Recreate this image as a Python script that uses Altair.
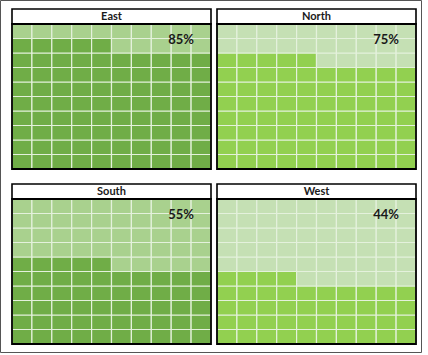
import altair as alt
import pandas as pd

# ---- data ----
regions = ["East", "North", "South", "West"]
percents = [85, 75, 55, 44]

# ---- layout constants (cell units) ----
GX = 6 / 19.9          # horizontal gap between panels
TITLE = 15 / 14.5      # title strip height
GY = 15 / 14.5         # vertical gap between panels
XD = 20 + GX
YD = 2 * (TITLE + 10) + GY

# ---- waffle cells (filled from bottom-left, row by row) ----
cells = []
for i, (r, p) in enumerate(zip(regions, percents)):
    for k in range(100):
        cells.append(dict(region=r, idx=i, row=9 - k // 10, col=k % 10,
                          key=r + ("-on" if k < p else "-off")))
cells_df = pd.DataFrame(cells)
panels_df = pd.DataFrame({"region": regions, "idx": range(4), "pct": percents})

color_domain = ["East-on", "East-off", "North-on", "North-off",
                "South-on", "South-off", "West-on", "West-off"]
color_range = ["#70AD47", "#A9D18E", "#92D050", "#C5E0B4",
               "#70AD47", "#A9D18E", "#92D050", "#C5E0B4"]

xs = alt.Scale(domain=[0, XD], nice=False, zero=False)
ys = alt.Scale(domain=[0, YD], nice=False, zero=False, reverse=True)

panel_calc = dict(
    pc="datum.idx % 2",
    pr="floor(datum.idx / 2)",
)
pos_calc = dict(
    px=f"datum.pc * (10 + {GX})",
    py=f"datum.pr * ({TITLE} + 10 + {GY})",
)

cells_chart = alt.Chart(cells_df).transform_calculate(**panel_calc).transform_calculate(
    **pos_calc).transform_calculate(
    x0="datum.px + datum.col", x1="datum.px + datum.col + 1",
    y0=f"datum.py + {TITLE} + datum.row", y1=f"datum.py + {TITLE} + datum.row + 1",
).mark_rect(stroke="#E4F1DC", strokeWidth=1.2).encode(
    x=alt.X("x0:Q", scale=xs,
            axis=alt.Axis(grid=True, gridColor="#E8E8E8", gridWidth=1, labels=False,
                          ticks=False, domain=False, title=None,
                          values=list(range(0, 21)))),
    x2="x1:Q",
    y=alt.Y("y0:Q", scale=ys,
            axis=alt.Axis(grid=True, gridColor="#E8E8E8", gridWidth=1, labels=False,
                          ticks=False, domain=False, title=None,
                          values=list(range(0, 24)))),
    y2="y1:Q",
    color=alt.Color("key:N", scale=alt.Scale(domain=color_domain, range=color_range),
                    legend=None),
)

panels_base = alt.Chart(panels_df).transform_calculate(**panel_calc).transform_calculate(
    **pos_calc).transform_calculate(
    tx0="datum.px", tx1="datum.px + 10",
    ty0="datum.py", ty1=f"datum.py + {TITLE}",
    gy1=f"datum.py + {TITLE} + 10",
    tcx="datum.px + 5", tcy=f"datum.py + {TITLE} / 2",
    lx="datum.px + 8.5", ly=f"datum.py + {TITLE} + 1.1",
    label="datum.pct + '%'",
)

title_box = panels_base.mark_rect(fill="white", stroke="black", strokeWidth=1.6).encode(
    x=alt.X("tx0:Q", scale=xs, axis=None), x2="tx1:Q",
    y=alt.Y("ty0:Q", scale=ys, axis=None), y2="ty1:Q",
)
grid_frame = panels_base.mark_rect(filled=False, stroke="black", strokeWidth=1.8).encode(
    x=alt.X("tx0:Q", scale=xs, axis=None), x2="tx1:Q",
    y=alt.Y("ty1:Q", scale=ys, axis=None), y2="gy1:Q",
)
title_text = panels_base.mark_text(font="Lato", fontWeight="bold", fontSize=11,
                                   color="#1a1a1a", baseline="middle", align="center").encode(
    x=alt.X("tcx:Q", scale=xs, axis=None),
    y=alt.Y("tcy:Q", scale=ys, axis=None),
    text="region:N",
)
pct_text = panels_base.mark_text(font="Lato", fontWeight="bold", fontSize=13,
                                 color="#1a1a1a", baseline="middle", align="center").encode(
    x=alt.X("lx:Q", scale=xs, axis=None),
    y=alt.Y("ly:Q", scale=ys, axis=None),
    text="label:N",
)

outer = alt.Chart(pd.DataFrame({"a": [0]})).mark_rect(
    filled=False, stroke="#555555", strokeWidth=1).encode(
    x=alt.value(-11.5), x2=alt.value(409.5), y=alt.value(-8.5), y2=alt.value(343.5),
)

chart = alt.layer(cells_chart, title_box, grid_frame, title_text, pct_text, outer).properties(
    width=404, height=335,
    padding={"left": 12, "top": 9, "right": 12, "bottom": 11},
    autosize=alt.AutoSizeParams(type="none"),
    background="white",
).configure_view(stroke=None)

chart.save("out.html", embed_options={"renderer": "svg", "actions": False})
